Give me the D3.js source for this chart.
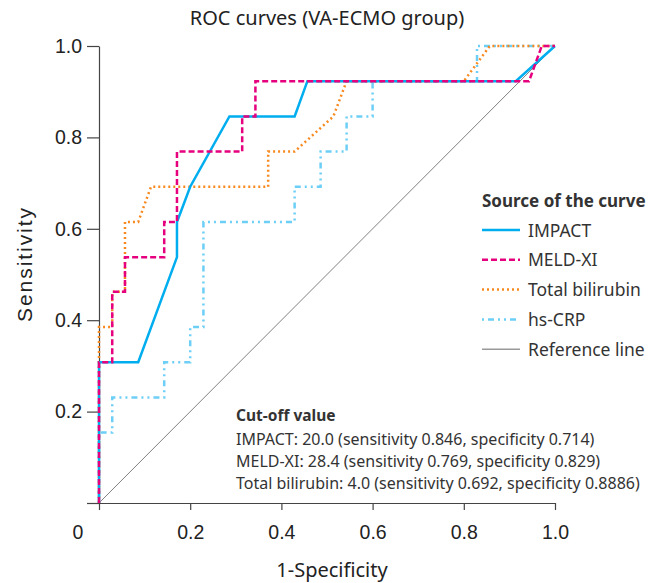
<!DOCTYPE html>
<html>
<head>
<meta charset="utf-8">
<script src="https://cdn.jsdelivr.net/npm/d3@7"></script>
<style>
  body { margin: 0; background: #fff; }
  .tick text { font-family: "Liberation Sans", Arial, sans-serif; font-size: 19.5px; fill: #222; }
</style>
</head>
<body>
<div id="chart"></div>
<script>
// ROC curve points: [1-specificity, sensitivity]
var impact = [[0,0],[0,0.308],[0.086,0.308],[0.171,0.538],[0.171,0.615],[0.2,0.692],[0.286,0.846],[0.429,0.846],[0.457,0.923],[0.914,0.923],[1,1]];
var meld = [[0,0],[0,0.308],[0.029,0.308],[0.029,0.462],[0.057,0.462],[0.057,0.538],[0.143,0.538],[0.143,0.615],[0.171,0.615],[0.171,0.769],[0.314,0.769],[0.314,0.846],[0.343,0.846],[0.343,0.923],[0.943,0.923],[0.971,1],[1,1]];
var bilirubin = [[0,0],[0,0.385],[0.029,0.385],[0.029,0.462],[0.057,0.462],[0.057,0.615],[0.086,0.615],[0.114,0.692],[0.371,0.692],[0.371,0.769],[0.429,0.769],[0.514,0.846],[0.543,0.923],[0.8,0.923],[0.857,1],[1,1]];
var crp = [[0,0],[0,0.154],[0.029,0.154],[0.029,0.231],[0.143,0.231],[0.143,0.308],[0.2,0.308],[0.2,0.385],[0.229,0.385],[0.229,0.615],[0.429,0.615],[0.429,0.692],[0.486,0.692],[0.486,0.769],[0.543,0.769],[0.543,0.846],[0.6,0.846],[0.6,0.923],[0.829,0.923],[0.829,1],[1,1]];
var refLine = [[0,0],[1,1]];

var legendNames = ["IMPACT", "MELD-XI", "Total bilirubin", "hs-CRP", "Reference line"];
var cutoffLines = [
  "IMPACT: 20.0 (sensitivity 0.846, specificity 0.714)",
  "MELD-XI: 28.4 (sensitivity 0.769, specificity 0.829)",
  "Total bilirubin: 4.0 (sensitivity 0.692, specificity 0.8886)"
];
var tickVals = [0, 0.2, 0.4, 0.6, 0.8, 1.0];

var series = [
  {data: impact, color: "#00aeef", width: 2.5, dash: null},
  {data: meld, color: "#e6007e", width: 2.5, dash: "6,3"},
  {data: bilirubin, color: "#f7891f", width: 2.5, dash: "2,3"},
  {data: crp, color: "#6dcff6", width: 2.5, dash: "2,4,6,4,2,4"},
  {data: refLine, color: "#808080", width: 1, dash: null}
];

var svgWidth = 666;
var svgHeight = 583;
var margin = {top: 46, left: 99};
var width = 456;
var height = 457;

var svg = d3.select("#chart")
  .append("svg")
  .attr("width", svgWidth)
  .attr("height", svgHeight);

var chartGroup = svg.append("g")
  .attr("transform", `translate(${margin.left}, ${margin.top})`);

var xScale = d3.scaleLinear().domain([0, 1]).range([0, width]);
var yScale = d3.scaleLinear().domain([0, 1]).range([height, 0]);

// axes
var bottomAxis = d3.axisBottom(xScale).tickValues(tickVals)
  .tickFormat(d => d === 0 ? "" : d3.format(".1f")(d)).tickSize(7).tickSizeOuter(0);
var leftAxis = d3.axisLeft(yScale).tickValues(tickVals)
  .tickFormat(d => d === 0 ? "" : d3.format(".1f")(d)).tickSize(12).tickSizeOuter(0);

var xAxisG = chartGroup.append("g")
  .attr("transform", `translate(0, ${height})`)
  .call(bottomAxis);
xAxisG.selectAll("text").attr("dy", "1.35em");

var yAxisG = chartGroup.append("g").call(leftAxis);
yAxisG.selectAll("text").attr("dx", "-0.1em");

chartGroup.selectAll(".domain, .tick line").attr("stroke", "#444").attr("stroke-width", 1.2);

// origin label
chartGroup.append("text")
  .attr("x", xScale(0) - 21)
  .attr("y", height + 36)
  .attr("text-anchor", "middle")
  .style("font-family", "'Liberation Sans', Arial, sans-serif")
  .style("font-size", "19.5px")
  .attr("fill", "#222")
  .text("0");

// curves
var line = d3.line().x(d => xScale(d[0])).y(d => yScale(d[1]));

// draw reference first, then the rest
var drawOrder = [4, 3, 2, 0, 1];
drawOrder.forEach(function(i) {
  var s = series[i];
  chartGroup.append("path")
    .datum(s.data)
    .attr("fill", "none")
    .attr("stroke", s.color)
    .attr("stroke-width", s.width)
    .attr("stroke-dasharray", s.dash)
    .attr("d", line);
});

// title
svg.append("text")
  .attr("x", 327)
  .attr("y", 25)
  .attr("text-anchor", "middle")
  .style("font-family", "'Noto Sans', sans-serif")
  .style("font-size", "20px")
  .attr("fill", "#222")
  .text("ROC curves (VA-ECMO group)");

// axis titles
svg.append("text")
  .attr("x", 332)
  .attr("y", 577)
  .attr("text-anchor", "middle")
  .style("font-family", "'Noto Sans', sans-serif")
  .style("font-size", "20px")
  .attr("fill", "#222")
  .text("1-Specificity");

svg.append("text")
  .attr("transform", "rotate(-90)")
  .attr("x", -265)
  .attr("y", 32)
  .attr("text-anchor", "middle")
  .attr("textLength", 114)
  .attr("lengthAdjust", "spacing")
  .style("font-family", "'Liberation Sans', Arial, sans-serif")
  .style("font-size", "21px")
  .attr("fill", "#222")
  .text("Sensitivity");

// legend
var legend = svg.append("g").attr("transform", "translate(482, 0)");
legend.append("text")
  .attr("x", 0)
  .attr("y", 207)
  .style("font-family", "'Noto Sans', sans-serif")
  .style("font-size", "17px")
  .style("font-weight", "bold")
  .attr("fill", "#333")
  .text("Source of the curve");

legendNames.forEach(function(name, i) {
  var y = 230 + i * 29.8;
  var s = series[i];
  legend.append("line")
    .attr("x1", 0).attr("x2", 38)
    .attr("y1", y).attr("y2", y)
    .attr("stroke", i === 4 ? "#999" : s.color)
    .attr("stroke-width", i === 4 ? 1.5 : 2.5)
    .attr("stroke-dasharray", s.dash);
  legend.append("text")
    .attr("x", 46)
    .attr("y", y + 6.5)
    .style("font-family", "'Noto Sans', sans-serif")
    .style("font-size", "17.5px")
    .attr("fill", "#333")
    .text(name);
});

// cut-off annotation
var cut = svg.append("g").attr("transform", "translate(236, 0)");
cut.append("text")
  .attr("x", 0).attr("y", 421)
  .style("font-family", "'Noto Sans', sans-serif")
  .style("font-size", "15.5px")
  .style("font-weight", "bold")
  .attr("fill", "#333")
  .text("Cut-off value");
cutoffLines.forEach(function(t, i) {
  cut.append("text")
    .attr("x", 0).attr("y", 445 + i * 22)
    .style("font-family", "'Noto Sans', sans-serif")
    .style("font-size", "16px")
    .attr("fill", "#333")
    .text(t);
});
</script>
</body>
</html>
